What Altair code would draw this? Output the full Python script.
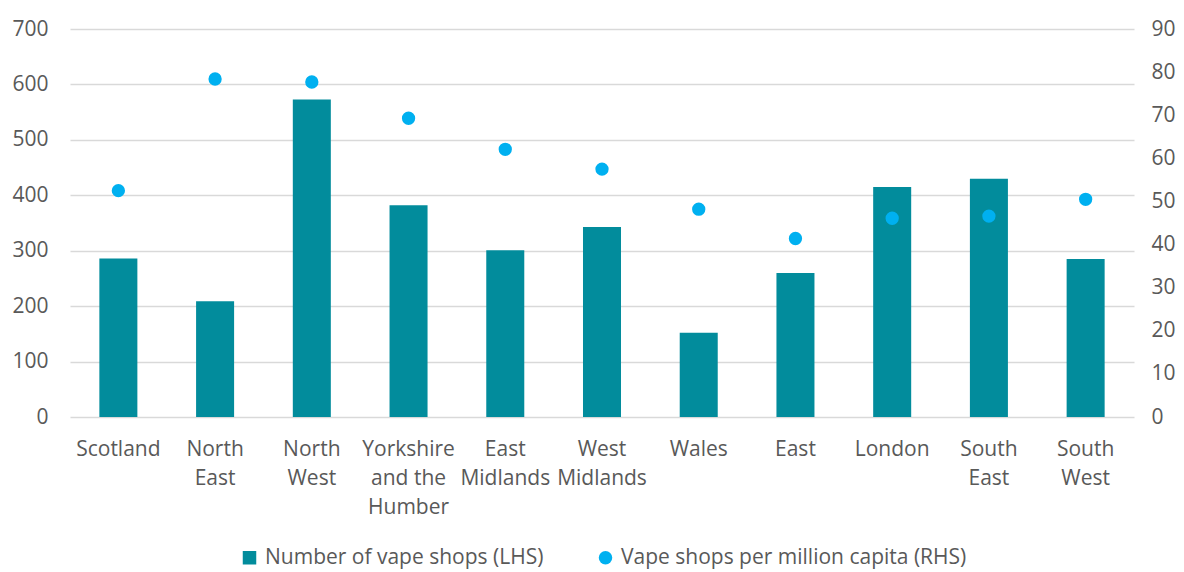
import altair as alt
import pandas as pd

regions = ["Scotland", "North\nEast", "North\nWest", "Yorkshire\nand the\nHumber",
           "East\nMidlands", "West\nMidlands", "Wales", "East", "London",
           "South\nEast", "South\nWest"]
shops = [286, 209, 573, 382, 301, 343, 152, 260, 415, 430, 285]
per_million = [52.5, 78.4, 77.7, 69.3, 62.1, 57.5, 48.2, 41.4, 46.1, 46.6, 50.5]

series_lhs = "Number of vape shops (LHS)"
series_rhs = "Vape shops per million capita (RHS)"

bars_df = pd.DataFrame({"region": regions, "value": shops, "series": series_lhs})
dots_df = pd.DataFrame({"region": regions, "value": per_million, "series": series_rhs})

FONT = "Open Sans"
FS = 21
LABEL_COLOR = "#595959"

color_scale = alt.Scale(domain=[series_lhs, series_rhs], range=["#028C9C", "#00B0F0"])
shape_scale = alt.Scale(domain=[series_lhs, series_rhs], range=["square", "circle"])
legend = alt.Legend(title=None, orient="none", legendX=169, legendY=518,
                    direction="horizontal",
                    labelFontSize=FS, labelFont=FONT, labelColor=LABEL_COLOR,
                    symbolSize=182, symbolStrokeWidth=0, columnPadding=51,
                    labelOffset=5, labelLimit=600, symbolOpacity=1)

x = alt.X("region:N", sort=regions, title=None,
          scale=alt.Scale(paddingInner=0.607, paddingOuter=0.3035),
          axis=alt.Axis(labelExpr="split(datum.label, '\\n')", labelAngle=0,
                        labelFontSize=FS, labelFont=FONT, labelColor=LABEL_COLOR,
                        labelLineHeight=29.3, labelPadding=21, ticks=False,
                        domain=False, labelBaseline="top"))

bars = alt.Chart(bars_df).mark_bar(opacity=1).encode(
    x=x,
    y=alt.Y("value:Q", title=None,
            scale=alt.Scale(domain=[0, 700]),
            axis=alt.Axis(values=list(range(0, 701, 100)), grid=True,
                          gridColor="#D9D9D9", gridWidth=1.5, domain=False,
                          ticks=False, labelFontSize=FS, labelFont=FONT,
                          labelColor=LABEL_COLOR, labelPadding=22)),
    color=alt.Color("series:N", scale=color_scale, legend=legend),
)

dots = alt.Chart(dots_df).mark_point(filled=True, opacity=1, size=177).encode(
    x=x,
    y=alt.Y("value:Q", title=None,
            scale=alt.Scale(domain=[0, 90]),
            axis=alt.Axis(orient="right", values=list(range(0, 91, 10)), grid=False,
                          domain=False, ticks=False, labelFontSize=FS,
                          labelFont=FONT, labelColor=LABEL_COLOR, labelPadding=17)),
    color=alt.Color("series:N", scale=color_scale, legend=legend),
    shape=alt.Shape("series:N", scale=shape_scale, legend=legend),
)

chart = alt.layer(bars, dots).resolve_scale(y="independent").properties(
    width=1064, height=388,
    autosize=alt.AutoSizeParams(type="none"),
    padding={"left": 62, "top": 21, "right": 42, "bottom": 155},
).configure_view(stroke=None)

chart.save("out.html", embed_options={"renderer": "svg", "actions": False})
